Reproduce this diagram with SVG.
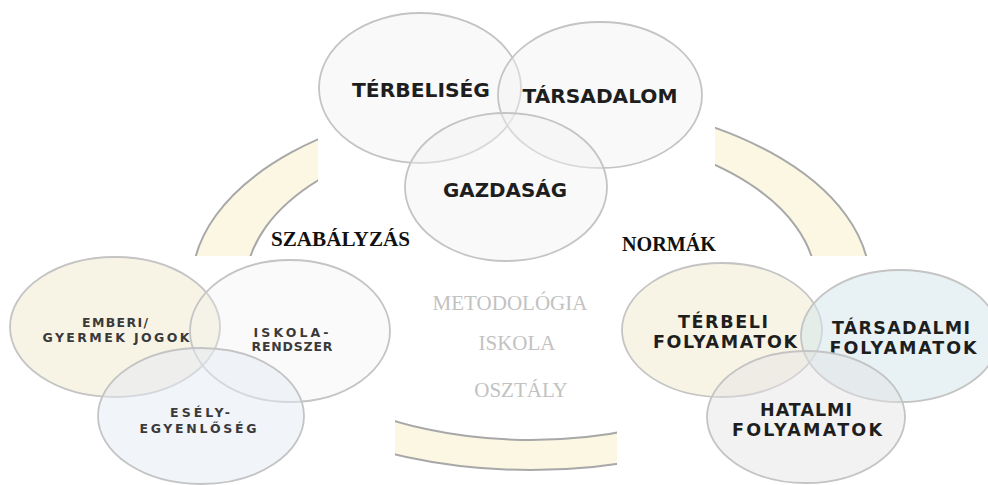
<svg xmlns="http://www.w3.org/2000/svg" width="988" height="485" viewBox="0 0 988 485">
  <style>
    .ell { stroke: #c4c4c4; stroke-width: 1.8; }
    .top { fill: #f2f2f2; fill-opacity: 0.45; }
    .cream { fill: #f2eacb; fill-opacity: 0.5; }
    .white { fill: #f0f0f0; fill-opacity: 0.3; }
    .blue { fill: #e4eaf3; fill-opacity: 0.5; }
    .teal { fill: #d6e7eb; fill-opacity: 0.55; }
    .grey { fill: #e2e2e2; fill-opacity: 0.45; }
    .t-big { font-family: "DejaVu Sans", "Liberation Sans", Arial, sans-serif; font-weight: bold; font-size: 20px; fill: #1e1e1e; text-anchor: middle; }
    .t-mid { font-family: "DejaVu Sans", "Liberation Sans", Arial, sans-serif; font-weight: bold; font-size: 17.5px; fill: #1e1e1e; text-anchor: middle; }
    .t-small { font-family: "DejaVu Sans", "Liberation Sans", Arial, sans-serif; font-weight: bold; font-size: 12.5px; fill: #3a3a3a; text-anchor: middle; }
    .t-label { font-family: "Liberation Serif", "Times New Roman", serif; font-weight: bold; font-size: 22px; fill: #111111; }
    .t-center { font-family: "Liberation Serif", "Times New Roman", serif; font-size: 21px; fill: #c2c2c2; text-anchor: middle; }
    .ring { fill: #fcf7e2; fill-rule: evenodd; stroke: #a8a8a8; stroke-width: 2; }
  </style>
  <defs>
    <clipPath id="ringClip">
      <rect x="0" y="0" width="318" height="256"/>
      <rect x="715" y="0" width="273" height="256"/>
      <rect x="395" y="400" width="222" height="85"/>
    </clipPath>
  </defs>
  <rect x="0" y="0" width="988" height="485" fill="#ffffff"/>

  <g id="connectors">
    <path class="ring" clip-path="url(#ringClip)" d="M 192,284 a 339,186 0 1,0 678,0 a 339,186 0 1,0 -678,0 Z M 246,284 a 285,156 0 1,0 570,0 a 285,156 0 1,0 -570,0 Z"/>
  </g>

  <g id="labels">
    <text class="t-label" x="271" y="246" textLength="139" lengthAdjust="spacingAndGlyphs">SZABÁLYZÁS</text>
    <text class="t-label" x="622" y="251" textLength="94" lengthAdjust="spacingAndGlyphs">NORMÁK</text>
    <text class="t-center" x="510" y="310">METODOLÓGIA</text>
    <text class="t-center" x="517" y="350">ISKOLA</text>
    <text class="t-center" x="521" y="397">OSZTÁLY</text>
  </g>

  <g id="terbeliseg">
    <ellipse class="ell top" cx="420" cy="88" rx="101" ry="75"/>
    <text class="t-big" x="421" y="97" textLength="138" lengthAdjust="spacingAndGlyphs">TÉRBELISÉG</text>
  </g>
  <g id="tarsadalom">
    <ellipse class="ell top" cx="600" cy="95" rx="102" ry="73"/>
    <text class="t-big" x="600" y="103" textLength="155" lengthAdjust="spacingAndGlyphs">TÁRSADALOM</text>
  </g>
  <g id="gazdasag">
    <ellipse class="ell top" cx="506" cy="187" rx="101" ry="74"/>
    <text class="t-big" x="505" y="197" textLength="124" lengthAdjust="spacingAndGlyphs">GAZDASÁG</text>
  </g>

  <g id="emberi-jogok">
    <ellipse class="ell cream" cx="115" cy="327" rx="105" ry="70"/>
    <text class="t-small" x="115" y="327" textLength="66" lengthAdjust="spacing">EMBERI/</text>
    <text class="t-small" x="116" y="342" textLength="147" lengthAdjust="spacing">GYERMEK JOGOK</text>
  </g>
  <g id="iskolarendszer">
    <ellipse class="ell white" cx="290" cy="331" rx="100" ry="71"/>
    <text class="t-small" x="291" y="337" textLength="75" lengthAdjust="spacing">ISKOLA-</text>
    <text class="t-small" x="292" y="351" textLength="81" lengthAdjust="spacing">RENDSZER</text>
  </g>
  <g id="eselyegyenloseg">
    <ellipse class="ell blue" cx="201" cy="416" rx="103" ry="68"/>
    <text class="t-small" x="200" y="417" textLength="60" lengthAdjust="spacing">ESÉLY-</text>
    <text class="t-small" x="198" y="433" textLength="117" lengthAdjust="spacing">EGYENLŐSÉG</text>
  </g>

  <g id="terbeli-folyamatok">
    <ellipse class="ell cream" cx="722" cy="330" rx="100" ry="67"/>
    <text class="t-mid" x="723" y="328" textLength="90" lengthAdjust="spacing">TÉRBELI</text>
    <text class="t-mid" x="725" y="348" textLength="144" lengthAdjust="spacing">FOLYAMATOK</text>
  </g>
  <g id="tarsadalmi-folyamatok">
    <ellipse class="ell teal" cx="900" cy="336" rx="99" ry="66"/>
    <text class="t-mid" x="901" y="334" textLength="138" lengthAdjust="spacing">TÁRSADALMI</text>
    <text class="t-mid" x="903" y="354" textLength="147" lengthAdjust="spacing">FOLYAMATOK</text>
  </g>
  <g id="hatalmi-folyamatok">
    <ellipse class="ell grey" cx="806" cy="417" rx="99" ry="66"/>
    <text class="t-mid" x="806" y="416" textLength="92" lengthAdjust="spacing">HATALMI</text>
    <text class="t-mid" x="807" y="436" textLength="150" lengthAdjust="spacing">FOLYAMATOK</text>
  </g>
</svg>
